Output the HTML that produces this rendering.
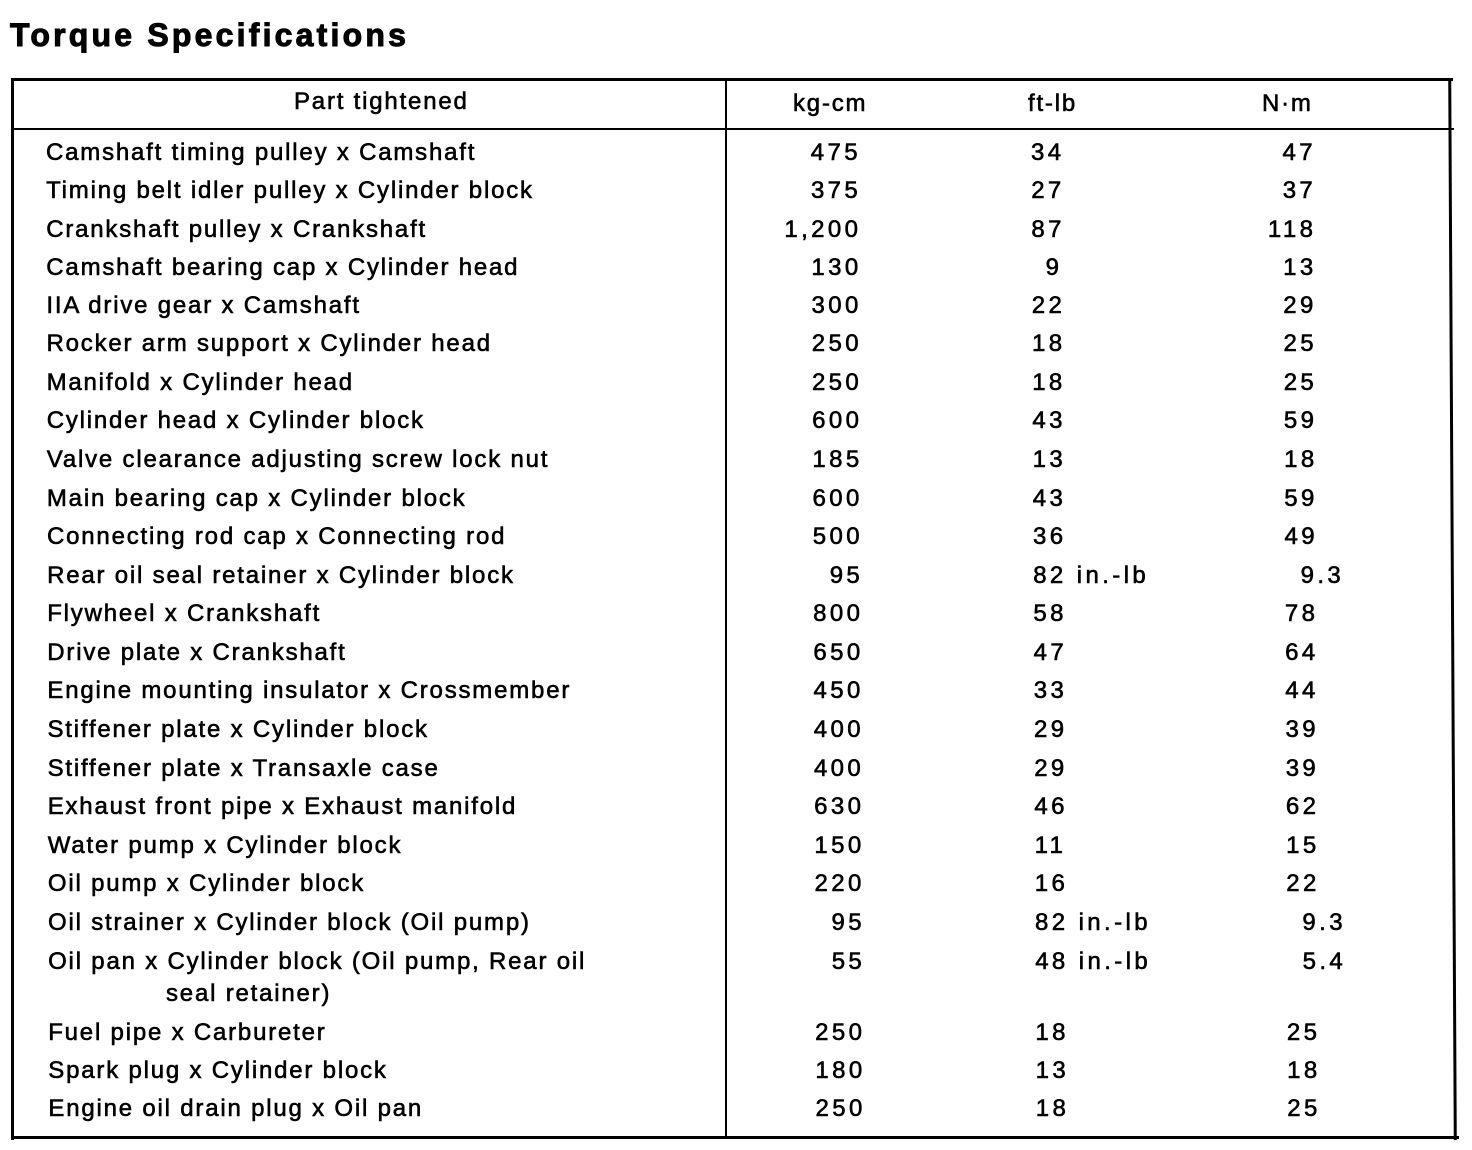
<!DOCTYPE html>
<html><head><meta charset="utf-8"><style>
body{margin:0;width:1472px;height:1150px;background:#fff;position:relative;overflow:hidden;font-family:"Liberation Sans",Arial,sans-serif;color:#000}
.t{position:absolute;font-size:24px;letter-spacing:1.8px;white-space:nowrap;line-height:26px;-webkit-text-stroke:0.6px #000}
.n{letter-spacing:3.4px}
.r{text-align:right;width:120px}
.l{position:absolute;background:#000}
</style></head><body>
<div class="t" style="left:10px;top:18px;font-size:32px;font-weight:bold;letter-spacing:3.2px;line-height:34px;-webkit-text-stroke:1px #000">Torque Specifications</div>
<div class="l" style="left:11px;top:78px;width:1442px;height:3px"></div>
<div class="l" style="left:11px;top:78px;width:3px;height:1062px"></div>
<div class="l" style="left:1451px;top:78px;width:3px;height:1062px;transform:skewX(0.3deg)"></div>
<div class="l" style="left:13px;top:1136px;width:1446px;height:3px"></div>
<div class="l" style="left:12px;top:128px;width:1442px;height:2px"></div>
<div class="l" style="left:725px;top:78px;width:2px;height:1060px"></div>
<div class="t" style="left:294px;top:89px">Part tightened</div>
<div class="t" style="left:793px;top:91px">kg-cm</div>
<div class="t" style="left:1028px;top:91px">ft-lb</div>
<div class="t" style="left:1262px;top:91px">N·m</div>
<div id="rows"></div>
<script>
var d=[
["Camshaft timing pulley x Camshaft","475","34","47",152],
["Timing belt idler pulley x Cylinder block","375","27","37",190],
["Crankshaft pulley x Crankshaft","1,200","87","118",229],
["Camshaft bearing cap x Cylinder head","130","9","13",267],
["IIA drive gear x Camshaft","300","22","29",305],
["Rocker arm support x Cylinder head","250","18","25",343],
["Manifold x Cylinder head","250","18","25",382],
["Cylinder head x Cylinder block","600","43","59",420],
["Valve clearance adjusting screw lock nut","185","13","18",459],
["Main bearing cap x Cylinder block","600","43","59",498],
["Connecting rod cap x Connecting rod","500","36","49",536],
["Rear oil seal retainer x Cylinder block","95","82 in.-lb","9.3",575],
["Flywheel x Crankshaft","800","58","78",613],
["Drive plate x Crankshaft","650","47","64",652],
["Engine mounting insulator x Crossmember","450","33","44",690],
["Stiffener plate x Cylinder block","400","29","39",729],
["Stiffener plate x Transaxle case","400","29","39",768],
["Exhaust front pipe x Exhaust manifold","630","46","62",806],
["Water pump x Cylinder block","150","11","15",845],
["Oil pump x Cylinder block","220","16","22",883],
["Oil strainer x Cylinder block (Oil pump)","95","82 in.-lb","9.3",922],
["Oil pan x Cylinder block (Oil pump, Rear oil","55","48 in.-lb","5.4",961],
["Fuel pipe x Carbureter","250","18","25",1032],
["Spark plug x Cylinder block","180","13","18",1070],
["Engine oil drain plug x Oil pan","250","18","25",1108]];
var h="";
d.forEach(function(r,i){var y=r[4]-12,dr=i*0.2;
h+='<div class="t" style="left:'+(46+dr*0.5)+'px;top:'+y+'px">'+r[0]+'</div>';
h+='<div class="t n r" style="left:'+(741+dr)+'px;top:'+y+'px">'+r[1]+'</div>';
var fl=r[2]=="9"?1045:1031;
h+='<div class="t n" style="left:'+(fl+dr)+'px;top:'+y+'px">'+r[2]+'</div>';
var dec=r[3].indexOf('.')>0;
h+='<div class="t n r" style="left:'+((dec?1222:1196)+dr)+'px;top:'+y+'px">'+r[3]+'</div>';
});
h+='<div class="t" style="left:166px;top:981px">seal retainer)</div>';
document.getElementById('rows').innerHTML=h;
</script>
</body></html>
